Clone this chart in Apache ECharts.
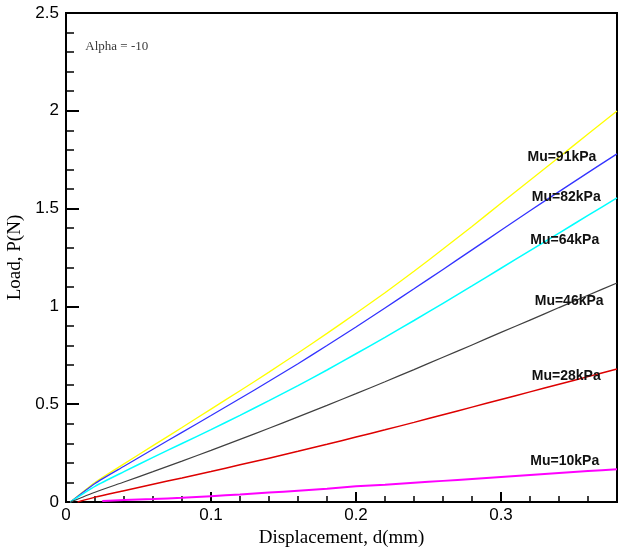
<!DOCTYPE html>
<html><head><meta charset="utf-8">
<script src="https://cdn.jsdelivr.net/npm/echarts@6/dist/echarts.min.js"></script>
<style>html,body{margin:0;padding:0;background:#fff}#c{width:624px;height:551px}</style>
</head><body><div id="c"></div>
<script>
var xs = [0.003,0.02,0.04,0.06,0.08,0.1,0.12,0.14,0.16,0.18,0.2,0.22,0.24,0.26,0.28,0.3,0.32,0.34,0.36,0.38];
var mu91 = [0,0.10,0.195,0.288,0.381,0.475,0.569,0.664,0.762,0.862,0.965,1.07,1.18,1.293,1.409,1.527,1.645,1.763,1.881,1.999];
var mu82 = [0,0.095,0.183,0.27,0.356,0.442,0.529,0.617,0.707,0.80,0.895,0.992,1.09,1.189,1.289,1.389,1.489,1.587,1.684,1.78];
var mu64 = [0,0.08,0.155,0.228,0.299,0.37,0.443,0.518,0.595,0.675,0.758,0.842,0.928,1.016,1.105,1.195,1.285,1.375,1.465,1.555];
var mu46 = [0,0.05,0.102,0.155,0.209,0.264,0.32,0.377,0.435,0.494,0.554,0.615,0.677,0.74,0.803,0.867,0.93,0.994,1.057,1.12];
var mu28x = [0.008,0.02,0.04,0.06,0.08,0.1,0.12,0.14,0.16,0.18,0.2,0.22,0.24,0.26,0.28,0.3,0.32,0.34,0.36,0.38];
var mu28 = [0,0.025,0.058,0.091,0.123,0.156,0.19,0.224,0.259,0.295,0.332,0.369,0.407,0.446,0.485,0.524,0.563,0.602,0.641,0.68];
var mu10x = [0.025,0.04,0.06,0.08,0.1,0.12,0.14,0.16,0.18,0.2,0.22,0.24,0.26,0.28,0.3,0.32,0.34,0.36,0.38];
var mu10 = [0.005,0.01,0.015,0.022,0.03,0.038,0.048,0.058,0.068,0.08,0.088,0.098,0.108,0.118,0.128,0.138,0.148,0.158,0.168];
var seriesNames = ['Mu=91kPa','Mu=82kPa','Mu=64kPa','Mu=46kPa','Mu=28kPa','Mu=10kPa'];
var labelPos = [[0.342,1.765],[0.345,1.56],[0.344,1.34],[0.347,1.025],[0.345,0.643],[0.344,0.21]];
var yTicks = ['0','0.5','1','1.5','2','2.5'];
var xTicks = ['0','0.1','0.2','0.3'];
var note = 'Alpha = -10';
var notePos = [0.035, 2.33];

function pairs(x, y){ return y.map(function(v,i){ return [x[i], v]; }); }
var allX = [xs, xs, xs, xs, mu28x, mu10x];
var allY = [mu91, mu82, mu64, mu46, mu28, mu10];
var colors = ['#ffff00','#3333ff','#00ffff','#404040','#dd0000','#ff00ff'];
var widths = [1.3,1.3,1.5,1.2,1.5,2];

var series = allY.map(function(y, i){
  return {
    type:'line', name: seriesNames[i], data: pairs(allX[i], y), showSymbol:false, symbol:'none',
    smooth:0.2,
    lineStyle:{color:colors[i], width:widths[i]}, z: 2,
    markPoint:{ symbol:'rect', symbolSize:1, itemStyle:{color:'rgba(0,0,0,0)'},
      data:[{coord:labelPos[i], label:{show:true, formatter:seriesNames[i], color:'#111',
        fontFamily:'Liberation Sans, Arial', fontWeight:'bold', fontSize:14, position:'inside'}}]},
    animation:false
  };
});
series.push({type:'scatter', data:[notePos], symbolSize:0, silent:true, animation:false,
  label:{show:true, formatter:note, position:'inside', fontFamily:'Liberation Serif, Times New Roman', fontSize:13, color:'#000'}});

var chart = echarts.init(document.getElementById('c'), null, {renderer:'canvas'});
chart.setOption({
  animation:false,
  backgroundColor:'#fff',
  grid:{left:66, right:7, top:13, bottom:49, outerBoundsMode:'none', containLabel:false,
    show:true, borderColor:'#000', borderWidth:2, backgroundColor:'transparent'},
  xAxis:{type:'value', min:0, max:0.38, interval:0.1,
    name:'Displacement, d(mm)', nameLocation:'middle', nameGap:21,
    nameTextStyle:{fontFamily:'Liberation Serif, Times New Roman', fontSize:19, color:'#000'},
    axisLine:{show:true, lineStyle:{color:'#000', width:2}},
    axisTick:{show:true, inside:true, length:10, lineStyle:{color:'#000', width:2}},
    minorTick:{show:true, splitNumber:5, length:6, lineStyle:{color:'#000', width:1.5}},
    splitLine:{show:false},
    axisLabel:{showMaxLabel:false, margin:5, fontFamily:'Liberation Sans, Arial', fontSize:17, color:'#000',
      formatter:function(v){ var i = Math.round(v/0.1); return xTicks[i] !== undefined ? xTicks[i] : ''; }}
  },
  yAxis:{type:'value', min:0, max:2.5, interval:0.5,
    name:'Load, P(N)', nameLocation:'middle', nameGap:40, nameRotate:90,
    nameTextStyle:{fontFamily:'Liberation Serif, Times New Roman', fontSize:19, color:'#000'},
    axisLine:{show:true, lineStyle:{color:'#000', width:2}},
    axisTick:{show:true, inside:true, length:13, lineStyle:{color:'#000', width:2}},
    minorTick:{show:true, splitNumber:5, length:8, lineStyle:{color:'#000', width:1.5}},
    splitLine:{show:false},
    axisLabel:{margin:7, fontFamily:'Liberation Sans, Arial', fontSize:17, color:'#000',
      formatter:function(v){ var i = Math.round(v/0.5); return yTicks[i] !== undefined ? yTicks[i] : ''; }}
  },
  series: series
});
</script></body></html>
